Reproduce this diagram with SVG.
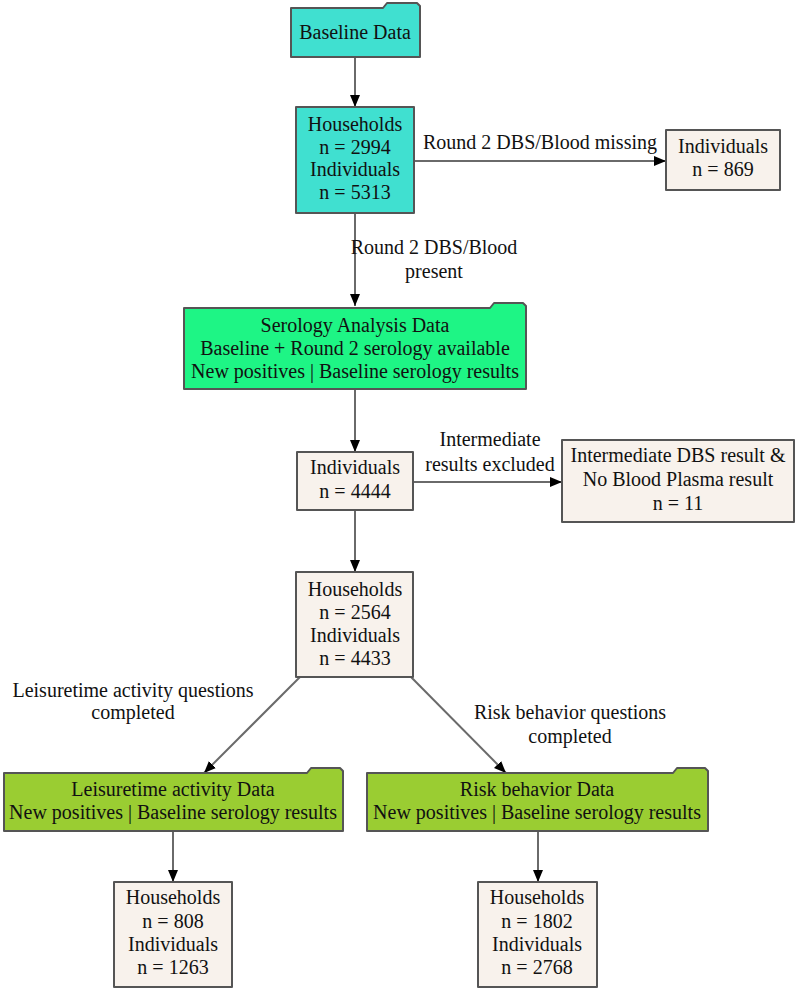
<svg xmlns="http://www.w3.org/2000/svg" width="796" height="990" viewBox="0 0 796 990">
<style>
text{font-family:"Liberation Serif","Times New Roman",serif;font-size:20px;fill:#111;text-anchor:middle}
.n{stroke:#555;stroke-width:2;stroke-linejoin:round}
.turq{fill:#40E0D0}
.sg{fill:#1EF585}
.yg{fill:#9ACD32}
.gr{fill:#F8F2EC}
.e{stroke:#6a6a6a;stroke-width:2;fill:none}
</style>
<defs>
<marker id="ah" markerUnits="userSpaceOnUse" markerWidth="12" markerHeight="12" viewBox="0 0 12 12" refX="12" refY="6" orient="auto">
<path d="M0,1 L12,6 L0,11 Z" fill="#000"/>
</marker>
</defs>
<rect width="796" height="990" fill="#fff"/>
<g id="edges">
<line class="e" x1="355" y1="57" x2="355" y2="107" marker-end="url(#ah)"/>
<line class="e" x1="414" y1="161" x2="666" y2="161" marker-end="url(#ah)"/>
<line class="e" x1="355" y1="213" x2="355" y2="306" marker-end="url(#ah)"/>
<line class="e" x1="355" y1="389" x2="355" y2="452" marker-end="url(#ah)"/>
<line class="e" x1="413" y1="482" x2="562" y2="482" marker-end="url(#ah)"/>
<line class="e" x1="355" y1="510" x2="355" y2="572" marker-end="url(#ah)"/>
<line class="e" x1="300" y1="677" x2="204" y2="773" marker-end="url(#ah)"/>
<line class="e" x1="411" y1="677" x2="506" y2="773" marker-end="url(#ah)"/>
<line class="e" x1="173" y1="831" x2="173" y2="882" marker-end="url(#ah)"/>
<line class="e" x1="538" y1="831" x2="538" y2="882" marker-end="url(#ah)"/>
<text x="540" y="149">Round 2 DBS/Blood missing</text>
<text x="434" y="254">Round 2 DBS/Blood</text>
<text x="434" y="278">present</text>
<text x="490" y="446">Intermediate</text>
<text x="490" y="471">results excluded</text>
<text x="133" y="697">Leisuretime activity questions</text>
<text x="133" y="719">completed</text>
<text x="570" y="719">Risk behavior questions</text>
<text x="570" y="743">completed</text>
</g>
<g id="baseline">
<path class="n turq" d="M291,8 L383,8 L387,3 L417,3 L420,6 L420,57 L291,57 Z"/>
<text x="355" y="39">Baseline Data</text>
</g>
<g id="households1">
<rect class="n turq" x="296" y="107" width="118" height="106"/>
<text x="355" y="131">Households</text>
<text x="355" y="154">n = 2994</text>
<text x="355" y="176">Individuals</text>
<text x="355" y="199">n = 5313</text>
</g>
<g id="missing">
<rect class="n gr" x="666" y="130" width="114" height="60"/>
<text x="723" y="153">Individuals</text>
<text x="723" y="176">n = 869</text>
</g>
<g id="serology">
<path class="n sg" d="M184,308 L490,308 L494,303 L523,303 L526,306 L526,389 L184,389 Z"/>
<text x="355" y="332">Serology Analysis Data</text>
<text x="355" y="355">Baseline + Round 2 serology available</text>
<text x="355" y="378">New positives | Baseline serology results</text>
</g>
<g id="individuals4444">
<rect class="n gr" x="297" y="452" width="116" height="58"/>
<text x="355" y="474">Individuals</text>
<text x="355" y="498">n = 4444</text>
</g>
<g id="intermediate">
<rect class="n gr" x="562" y="440" width="232" height="82"/>
<text x="678" y="462">Intermediate DBS result &amp;</text>
<text x="678" y="486">No Blood Plasma result</text>
<text x="678" y="510">n = 11</text>
</g>
<g id="households2564">
<rect class="n gr" x="296" y="572" width="117" height="105"/>
<text x="355" y="596">Households</text>
<text x="355" y="619">n = 2564</text>
<text x="355" y="642">Individuals</text>
<text x="355" y="665">n = 4433</text>
</g>
<g id="leisure">
<path class="n yg" d="M4,773 L307,773 L311,768 L340,768 L343,771 L343,831 L4,831 Z"/>
<text x="173" y="796">Leisuretime activity Data</text>
<text x="173" y="819">New positives | Baseline serology results</text>
</g>
<g id="risk">
<path class="n yg" d="M367,773 L673,773 L677,768 L705,768 L708,771 L708,831 L367,831 Z"/>
<text x="537" y="796">Risk behavior Data</text>
<text x="537" y="819">New positives | Baseline serology results</text>
</g>
<g id="households808">
<rect class="n gr" x="114" y="882" width="118" height="105"/>
<text x="173" y="904">Households</text>
<text x="173" y="928">n = 808</text>
<text x="173" y="951">Individuals</text>
<text x="173" y="974">n = 1263</text>
</g>
<g id="households1802">
<rect class="n gr" x="478" y="882" width="119" height="105"/>
<text x="537" y="904">Households</text>
<text x="537" y="928">n = 1802</text>
<text x="537" y="951">Individuals</text>
<text x="537" y="974">n = 2768</text>
</g>
</svg>
